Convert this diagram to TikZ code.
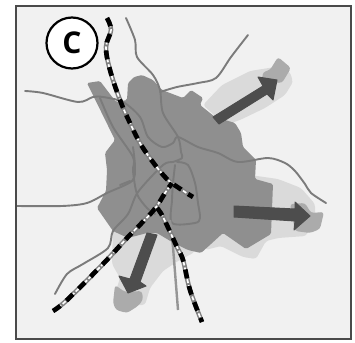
\documentclass[tikz,border=0pt]{standalone}
\usepackage{fontspec}
\setmainfont{Open Sans}
\definecolor{paper}{HTML}{F1F1F1}
\definecolor{city}{HTML}{8F8F8F}
\definecolor{road}{HTML}{7B7B7B}
\definecolor{halo}{HTML}{DADADA}
\definecolor{patch}{HTML}{ABABAB}
\definecolor{flow}{HTML}{4D4D4D}
\definecolor{edge}{HTML}{4A4A4A}
\tikzset{
  x=1pt,y=-1pt,
  roadline/.style={draw=road,line width=1.9pt,line join=round,line cap=round},
  blob/.style={rounded corners=3pt},
  flowarrow/.style={fill=flow,draw=flow,line width=1pt,line join=round},
  railbase/.style={draw=black!50,line width=4.6pt},
  railwhite/.style={draw=white,line width=1.7pt},
  railblack/.style={draw=black,line width=4.6pt,dash pattern=on 9pt off 8pt}
}
\newcommand{\railway}[1]{%
  \draw[railbase] plot[smooth,tension=.6] coordinates {#1};
  \draw[railwhite,dash pattern=on 4pt off 2pt] plot[smooth,tension=.6] coordinates {#1};
  \draw[railblack] plot[smooth,tension=.6] coordinates {#1};
}
\begin{document}
\begin{tikzpicture}
\useasboundingbox (0,0) rectangle (355,342);
\fill[white] (0,0) rectangle (355,342);
\fill[paper] (16,6) rectangle (351,339);
% light halos
\fill[halo,blob] (203,105) -- (222,85) -- (250,71) -- (275,67) -- (290,72) -- (293,82) -- (285,95) -- (265,108) -- (240,120) -- (225,125) -- cycle;
\fill[halo,blob] (250,175) -- (278,179) -- (301,188) -- (315,204) -- (315,218) -- (306,236) -- (278,238) -- (266,241) -- (256,259) -- (243,257) -- (221,246) -- (205,250) -- cycle;
\fill[halo,blob] (113,225) -- (112,264) -- (120,278) -- (115,294) -- (127,305) -- (145,305) -- (150,288) -- (163,271) -- (178,261) -- (195,252) -- (190,225) -- cycle;
% patches
\fill[patch,blob] (278,57) -- (291,68) -- (282,83) -- (268,82) -- (262,80) -- (263,72) -- (270,70) -- cycle;
\fill[patch,blob] (290,204) -- (305,203) -- (311,213) -- (324,212) -- (320,229) -- (310,233) -- (295,231) -- cycle;
\fill[patch,blob] (115,285) -- (125,292) -- (142,291) -- (143,300) -- (138,306) -- (127,313) -- (116,310) -- (113,303) -- cycle;
% city
\fill[city,rounded corners=1.5pt] (87,83) -- (100,81) -- (116,102) -- (127,100) -- (128,83) -- (134,77) -- (142,75) -- (153,80) -- (162,90) -- (183,98) -- (191,90) -- (203,98) -- (200,105) -- (215,117) -- (235,123) -- (241,133) -- (243,147) -- (256,160) -- (255,179) -- (273,184) -- (271,234) -- (246,249) -- (223,233) -- (211,244) -- (201,253) -- (188,250) -- (172,242) -- (167,239) -- (157,233) -- (147,233) -- (128,238) -- (113,231) -- (97,208) -- (106,191) -- (107,170) -- (105,153) -- (115,140) -- cycle;
% roads
\draw[roadline] plot[smooth,tension=.5] coordinates {(126,18) (135,40) (137,57) (153,75) (160,90) (163,113) (178,137) (181,152) (182,158) (173,162) (163,165) (138,192) (128,214) (113,231) (108,248) (83,264) (67,274) (55,294)};
\draw[roadline] plot[smooth,tension=.5] coordinates {(248,35) (231,57) (216,78) (198,83) (177,87) (160,92)};
\draw[roadline] plot[smooth,tension=.5] coordinates {(25,91) (43,93) (78,102) (93,97) (103,97) (123,102) (140,117) (148,137) (162,147) (173,143) (178,137) (198,147) (218,153) (238,162) (268,158) (285,163) (295,171) (305,184) (311,193) (326,203)};
\draw[roadline] plot[smooth,tension=.5] coordinates {(100,98) (113,127) (133,157) (133,171) (137,194) (147,208) (155,214)};
\draw[roadline] plot[smooth,tension=.5] coordinates {(17,206) (62,206) (87,203) (107,193) (132,181) (135,167) (133,147)};
\draw[roadline] plot[smooth,tension=.5] coordinates {(130,181) (120,185)};
\draw[roadline] plot[smooth,tension=.5] coordinates {(177,162) (188,165) (195,183) (198,203) (200,218) (195,223) (172,223) (172,200) (173,183) (175,165)};
\draw[roadline,line width=2.4pt,draw=road!80!white,line cap=butt] (170,220) -- (173,247) -- (178,310);
% arrows
\fill[flowarrow] (213,117) -- (219,124) -- (267,94) -- (273,100) -- (277,80) -- (258,77) -- (263,86) -- cycle;
\fill[flowarrow] (234,206) -- (234,217) -- (295,221) -- (294,230) -- (310,216) -- (295,202) -- (295,209) -- cycle;
\fill[flowarrow] (147,233) -- (157,235) -- (140,282) -- (146,286) -- (128,293) -- (119,276) -- (130,279) -- cycle;
% railways
\railway{(107,18) (111,30) (106,47) (110,70) (120,100) (130,123) (143,148) (165,177) (182,190) (193,197)}
\railway{(53,311) (67,300) (103,264) (127,238) (153,211) (165,193) (172,183)}
\railway{(157,208) (163,217) (177,247) (183,260) (190,290) (202,322)}
% frame
\draw[edge,line width=2pt] (16,6) rectangle (351,339);
% badge
\node[circle,draw=black,fill=white,line width=2.2pt,minimum size=51pt,inner sep=0pt,font=\bfseries\fontsize{30}{30}\selectfont] (badge) at (72,43) {C};
\end{tikzpicture}
\end{document}
